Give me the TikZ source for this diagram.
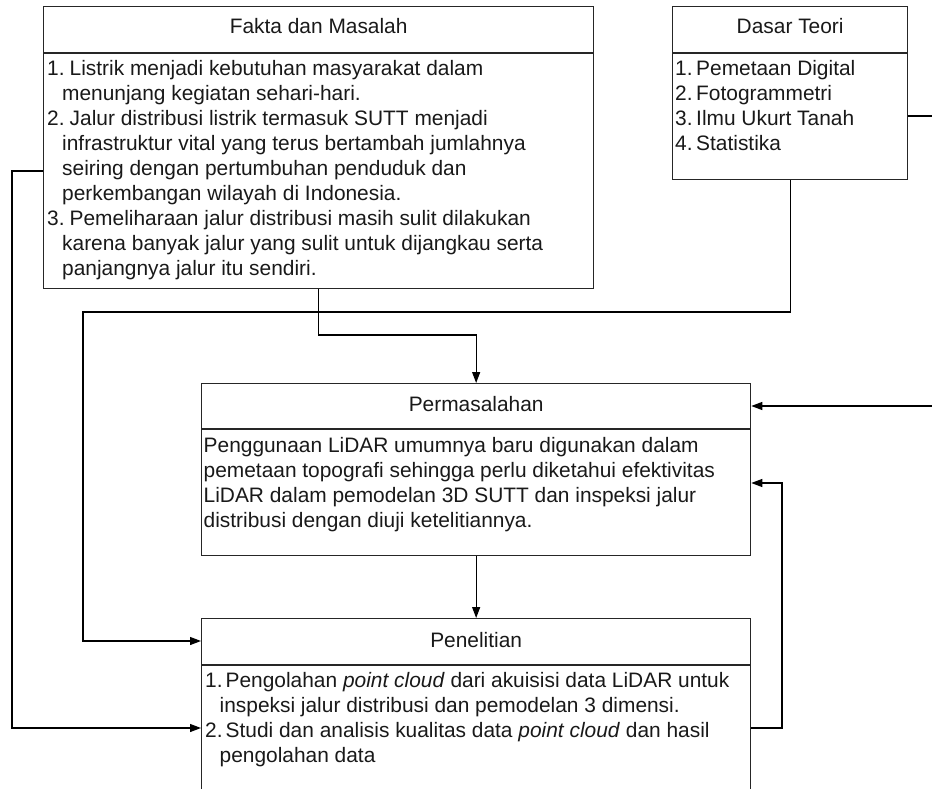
\documentclass[tikz,border=0pt]{standalone}
\usepackage{fontspec}
\setmainfont{Liberation Sans}
\usetikzlibrary{arrows.meta,calc}
\newcommand{\bodyfont}{\fontsize{20.9}{25}\selectfont}
\begin{document}
\begin{tikzpicture}[x=1pt,y=-1pt,
  box/.style={draw=black!85,line width=1.3pt,inner sep=0pt,anchor=north west},
  sep/.style={draw=black!85,line width=1.3pt},
  conn/.style={draw=black,line width=1.2pt},
  arr/.style={conn,-{Triangle[length=11pt,width=8pt]}},
  txt/.style={inner sep=0pt,anchor=north west,align=left,font=\bodyfont,text=black!90},
  ttl/.style={inner sep=0pt,anchor=base,font=\bodyfont,text=black!90}]
\useasboundingbox (0,0) rectangle (932,789);
\clip (0,0) rectangle (932,789);
% boxes
\node[box,minimum width=550pt,minimum height=282pt] (fakta) at (43,6) {};
\node[box,minimum width=235pt,minimum height=173pt] (dasar) at (672,6) {};
\node[box,minimum width=549pt,minimum height=172pt] (perm) at (201,383) {};
\node[box,minimum width=549pt,minimum height=200pt] (pen) at (201,618) {};
% header separators
\draw[sep] (fakta.west |- 0,53) -- (fakta.east |- 0,53);
\draw[sep] (dasar.west |- 0,53) -- (dasar.east |- 0,53);
\draw[sep] (perm.west |- 0,429) -- (perm.east |- 0,429);
\draw[sep] (pen.west |- 0,665) -- (pen.east |- 0,665);
% titles
\node[ttl] (tfakta) at (fakta.north |- 0,34) {Fakta dan Masalah};
\node[ttl] (tdasar) at (dasar.north |- 0,34) {Dasar Teori};
\node[ttl] (tperm) at (perm.north |- 0,411) {Permasalahan};
\node[ttl] (tpen) at (pen.north |- 0,647) {Penelitian};
% bodies
\node[txt] (bfakta) at (47,57.5) {\strut\makebox[22.5pt][l]{1.}Listrik menjadi kebutuhan masyarakat dalam\\
\hspace*{15pt}menunjang kegiatan sehari-hari.\\
\makebox[22.5pt][l]{2.}Jalur distribusi listrik termasuk SUTT menjadi\\
\hspace*{15pt}infrastruktur vital yang terus bertambah jumlahnya\\
\hspace*{15pt}seiring dengan pertumbuhan penduduk dan\\
\hspace*{15pt}perkembangan wilayah di Indonesia.\\
\makebox[22.5pt][l]{3.}Pemeliharaan jalur distribusi masih sulit dilakukan\\
\hspace*{15pt}karena banyak jalur yang sulit untuk dijangkau serta\\
\hspace*{15pt}panjangnya jalur itu sendiri.};
\node[txt] (bdasar) at (675,57.5) {\strut\makebox[21pt][l]{1.}Pemetaan Digital\\
\makebox[21pt][l]{2.}Fotogrammetri\\
\makebox[21pt][l]{3.}Ilmu Ukurt Tanah\\
\makebox[21pt][l]{4.}Statistika};
\node[txt] (bperm) at (203.5,434.5) {\strut Penggunaan LiDAR umumnya baru digunakan dalam\\
pemetaan topografi sehingga perlu diketahui efektivitas\\
LiDAR dalam pemodelan 3D SUTT dan inspeksi jalur\\
distribusi dengan diuji ketelitiannya.};
\node[txt] (bpen) at (205,669.5) {\strut\makebox[20.5pt][l]{1.}Pengolahan \textit{point cloud} dari akuisisi data LiDAR untuk\\
\hspace*{14.5pt}inspeksi jalur distribusi dan pemodelan 3 dimensi.\\
\makebox[20.5pt][l]{2.}Studi dan analisis kualitas data \textit{point cloud} dan hasil\\
\hspace*{14.5pt}pengolahan data};
% free ends at the right edge
\coordinate (edgeA) at (932,116);
\coordinate (edgeB) at (932,406);
% connectors
\draw[arr] (fakta.west |- 0,171) -| (12,728) -- (pen.west |- 0,728);
\draw[arr] (dasar.south) |- (83,312) |- (pen.west |- 0,641);
\draw[arr] (fakta.south) |- (perm.north |- 0,335) -- (perm.north);
\draw[arr] (perm.south) -- (pen.north);
\draw[arr] (pen.east |- 0,728) -| (782,483) -- (perm.east |- 0,483);
\draw[conn] (dasar.east |- 0,116) -- (edgeA);
\draw[arr] (edgeB) -- (perm.east |- 0,406);
\end{tikzpicture}
\end{document}
